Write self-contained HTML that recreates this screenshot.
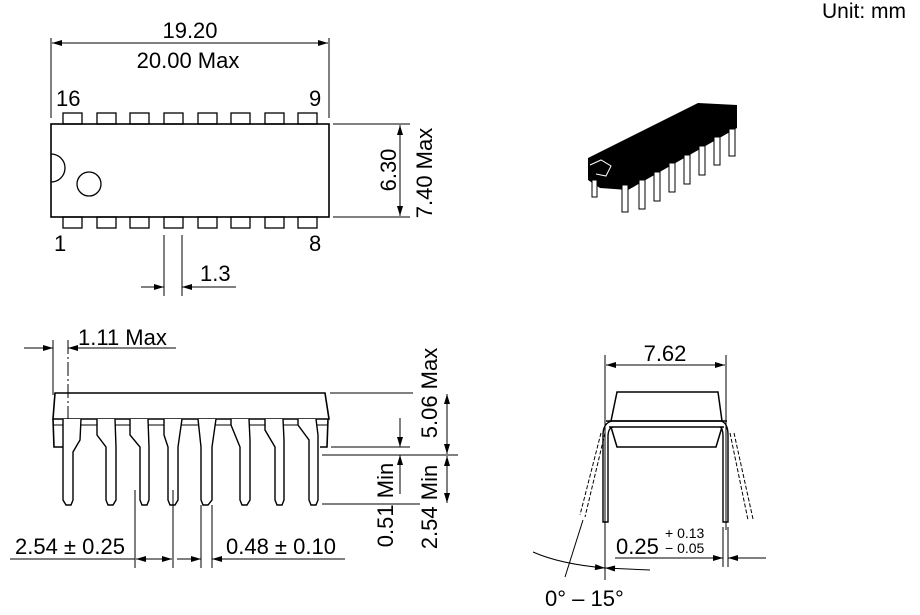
<!DOCTYPE html>
<html><head><meta charset="utf-8"><style>
html,body{margin:0;padding:0;background:#fff}
svg{display:block}
text{font-family:"Liberation Sans",Arial,sans-serif;fill:#000}
</style></head><body>
<svg width="920" height="615" viewBox="0 0 920 615" xmlns="http://www.w3.org/2000/svg">
<defs>
<marker id="a" viewBox="0 0 10 6" refX="10" refY="3" markerWidth="11" markerHeight="6" orient="auto-start-reverse" markerUnits="userSpaceOnUse"><path d="M0,0L10,3L0,6z" fill="#000"/></marker>
</defs>
<g stroke="#000" fill="none" stroke-width="1">
<text x="822" y="18" font-size="21" stroke="none">Unit: mm</text>
<!-- TOP VIEW -->
<line x1="51" y1="38" x2="51" y2="118"/><line x1="329" y1="38" x2="329" y2="118"/>
<line x1="52" y1="43" x2="328" y2="43" marker-start="url(#a)" marker-end="url(#a)"/>
<text x="190" y="38" font-size="22" text-anchor="middle" stroke="none">19.20</text>
<text x="188" y="68" font-size="22" text-anchor="middle" stroke="none">20.00 Max</text>
<text x="56" y="106" font-size="22" stroke="none">16</text>
<text x="309" y="106" font-size="22" stroke="none">9</text>
<text x="54" y="251" font-size="22" stroke="none">1</text>
<text x="309" y="251" font-size="22" stroke="none">8</text>
<rect x="51" y="124" width="278" height="93" stroke-width="1.6"/>
<path d="M51,154 A14,14 0 0 1 51,182" stroke-width="1.3"/>
<circle cx="89" cy="184" r="12" stroke-width="1.3"/>
<g stroke-width="1.3">
<rect x="63" y="113" width="19" height="11"/><rect x="97" y="113" width="19" height="11"/><rect x="130" y="113" width="19" height="11"/><rect x="164" y="113" width="19" height="11"/><rect x="198" y="113" width="19" height="11"/><rect x="231" y="113" width="19" height="11"/><rect x="265" y="113" width="19" height="11"/><rect x="298" y="113" width="19" height="11"/>
<rect x="63" y="217" width="19" height="11"/><rect x="97" y="217" width="19" height="11"/><rect x="130" y="217" width="19" height="11"/><rect x="164" y="217" width="19" height="11"/><rect x="198" y="217" width="19" height="11"/><rect x="231" y="217" width="19" height="11"/><rect x="265" y="217" width="19" height="11"/><rect x="298" y="217" width="19" height="11"/>
</g>
<line x1="333" y1="124" x2="410" y2="124"/><line x1="333" y1="217" x2="410" y2="217"/>
<line x1="400" y1="125" x2="400" y2="216" marker-start="url(#a)" marker-end="url(#a)"/>
<text transform="translate(396,170) rotate(-90)" font-size="22" text-anchor="middle" stroke="none">6.30</text>
<text transform="translate(432,173) rotate(-90)" font-size="22" text-anchor="middle" stroke="none">7.40 Max</text>
<line x1="164" y1="235" x2="164" y2="296"/><line x1="182" y1="235" x2="182" y2="296"/>
<line x1="141" y1="287" x2="164" y2="287" marker-end="url(#a)"/>
<line x1="236" y1="287" x2="182" y2="287" marker-end="url(#a)"/>
<text x="200" y="281" font-size="22" stroke="none">1.3</text>
<!-- 3D -->
<path d="M588,158 L698,103 L737,105 L737,128 L628,190 L600,188 L588,180 Z" fill="#000" stroke="none"/>
<g fill="#fff" stroke="#000" stroke-width="1">
<rect x="592" y="180" width="5" height="17"/>
<rect x="622" y="185" width="6" height="27"/><rect x="639" y="180" width="6" height="29"/><rect x="654" y="172" width="6" height="29"/><rect x="669" y="163" width="6" height="29"/><rect x="684" y="155" width="6" height="29"/><rect x="699" y="146" width="6" height="29"/><rect x="714" y="137" width="6" height="28"/><rect x="729" y="129" width="6" height="27"/>
</g>
<path d="M590,165 L601,160 L611,166 L606,176 L596,174" stroke="#fff" stroke-width="1"/>
<!-- SIDE VIEW -->
<line x1="53" y1="340" x2="53" y2="395"/>
<line x1="68" y1="340" x2="68" y2="500" stroke-dasharray="14,3,2,3"/>
<line x1="24" y1="348" x2="53" y2="348" marker-end="url(#a)"/>
<line x1="176" y1="348" x2="68" y2="348" marker-end="url(#a)"/>
<text x="78" y="345" font-size="22" stroke="none">1.11 Max</text>
<path d="M55,393 L325,393 L329,419 L53,419 Z" stroke-width="1.6"/>
<path d="M53,419 L54,447 L70,447 M328,419 L327,447 L320,447" stroke-width="1.6"/>
<line x1="53" y1="425" x2="328" y2="425"/>
<g stroke-width="1.4" fill="#fff">
<path d="M63,419 L63,500 L66,505 L71,505 L73,500 L73,452 L80,440 L81,419"/>
<path d="M97,419 L97,435 L106,447 L106,500 L108,505 L113,505 L116,500 L116,447 L115,419"/>
<path d="M130,419 L130,435 L140,447 L140,500 L142,505 L147,505 L149,500 L149,447 L148,419"/>
<path d="M164,419 L164,435 L168,447 L168,500 L170,505 L175,505 L178,500 L178,447 L182,419"/>
<path d="M198,419 L201,447 L201,500 L203,505 L208,505 L212,500 L212,447 L216,419"/>
<path d="M231,419 L231,425 L240,447 L240,500 L242,505 L247,505 L250,500 L250,440 L249,419"/>
<path d="M265,419 L265,430 L275,447 L275,500 L277,505 L282,505 L284,500 L284,440 L283,419"/>
<path d="M298,419 L298,425 L309,440 L309,500 L311,505 L316,505 L318,500 L318,435 L316,419"/>
</g>
<line x1="330" y1="393" x2="413" y2="393"/>
<line x1="331" y1="447" x2="410" y2="447"/>
<line x1="322" y1="455" x2="458" y2="455"/>
<line x1="322" y1="504" x2="420" y2="504"/>
<line x1="400" y1="418" x2="400" y2="447" marker-end="url(#a)"/>
<line x1="400" y1="494" x2="400" y2="455" marker-end="url(#a)"/>
<line x1="447" y1="394" x2="447" y2="454" marker-start="url(#a)" marker-end="url(#a)"/>
<line x1="447" y1="456" x2="447" y2="503" marker-start="url(#a)" marker-end="url(#a)"/>
<text transform="translate(393,505) rotate(-90)" font-size="22" text-anchor="middle" stroke="none">0.51 Min</text>
<text transform="translate(437,393) rotate(-90)" font-size="22" text-anchor="middle" stroke="none">5.06 Max</text>
<text transform="translate(437,507) rotate(-90)" font-size="22" text-anchor="middle" stroke="none">2.54 Min</text>
<line x1="135" y1="490" x2="135" y2="568"/><line x1="173" y1="490" x2="173" y2="568"/>
<line x1="201" y1="505" x2="201" y2="568"/><line x1="212" y1="505" x2="212" y2="568"/>
<line x1="10" y1="559" x2="135" y2="559"/>
<line x1="136" y1="559" x2="172" y2="559" marker-start="url(#a)" marker-end="url(#a)"/>
<line x1="177" y1="559" x2="201" y2="559" marker-end="url(#a)"/>
<line x1="345" y1="559" x2="212" y2="559" marker-end="url(#a)"/>
<text x="15" y="554" font-size="22" stroke="none">2.54 ± 0.25</text>
<text x="226" y="554" font-size="22" stroke="none">0.48 ± 0.10</text>
<!-- END VIEW -->
<line x1="605" y1="355" x2="605" y2="580"/><line x1="726" y1="355" x2="726" y2="530"/>
<line x1="606" y1="365" x2="725" y2="365" marker-start="url(#a)" marker-end="url(#a)"/>
<text x="665" y="361" font-size="22" text-anchor="middle" stroke="none">7.62</text>
<path d="M617,392 L718,392 L722,421 L611,421 Z" stroke-width="1.5"/>
<path d="M611,427 L617,447 L716,447 L722,427" stroke-width="1.5"/>
<line x1="606" y1="421" x2="727" y2="421" stroke-width="1.5"/>
<line x1="609" y1="427" x2="724" y2="427" stroke-width="1.5"/>
<path d="M612,421 Q603,423 603,435 L603,522 L608,522 L608,437 Q608,428 613,427" stroke-width="1.4"/>
<path d="M721,421 Q728,423 728,435 L728,522 L723,522 L723,437 Q723,428 720,427" stroke-width="1.4"/>
<path d="M601,433 L580,515 M605,433 L585,517" stroke-dasharray="4,2"/>
<path d="M730,433 L748,520 M734,433 L753,519" stroke-dasharray="4,2"/>
<line x1="723" y1="527" x2="723" y2="567"/><line x1="728" y1="527" x2="728" y2="567"/>
<line x1="615" y1="558" x2="723" y2="558" marker-end="url(#a)"/>
<line x1="766" y1="558" x2="728" y2="558" marker-end="url(#a)"/>
<text x="616" y="554" font-size="22" stroke="none">0.25</text>
<text x="665" y="538" font-size="14" stroke="none">+ 0.13</text>
<text x="665" y="553" font-size="14" stroke="none">− 0.05</text>
<path d="M533,552 Q560,564 605,568" marker-end="url(#a)"/>
<line x1="650" y1="570" x2="605" y2="568" marker-end="url(#a)"/>
<line x1="583" y1="520" x2="565" y2="577"/>
<text x="545" y="606" font-size="22" stroke="none">0° – 15°</text>
</g>
</svg>
</body></html>
